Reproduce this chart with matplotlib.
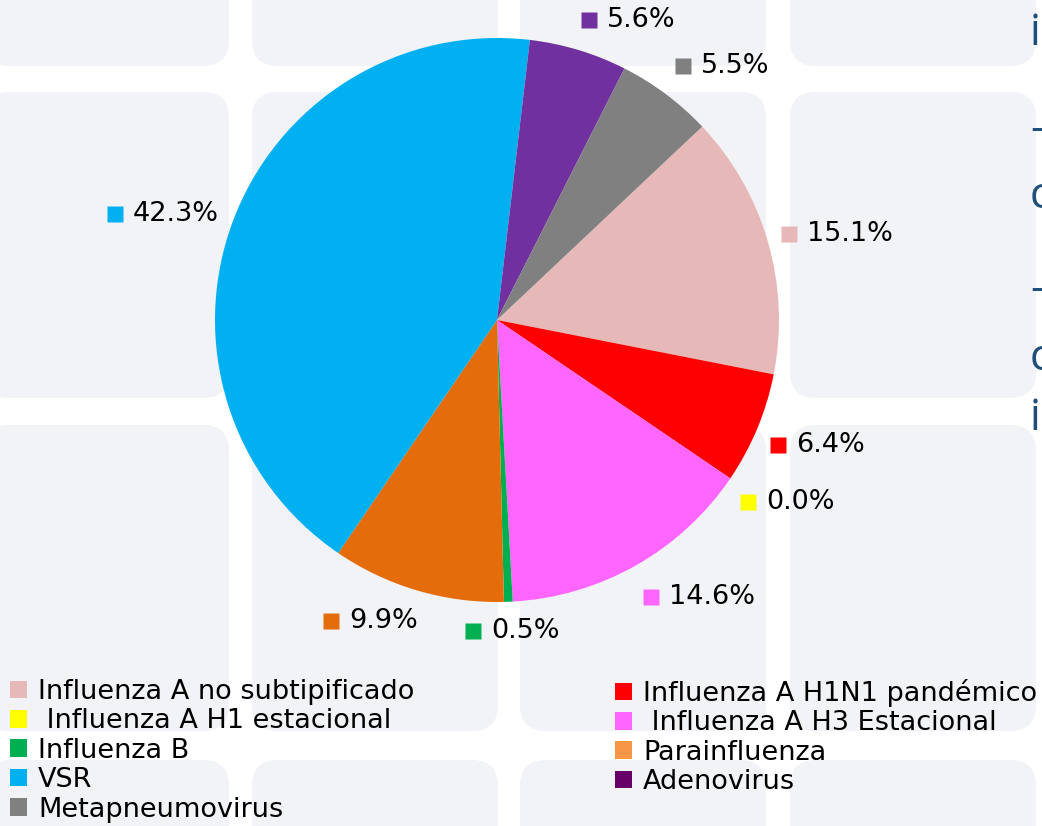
import matplotlib
matplotlib.use("Agg")
import matplotlib.pyplot as plt
from matplotlib.patches import FancyBboxPatch, Patch

# data, in Excel's series order (clockwise from the pink slice)
categories = ["Influenza A no subtipificado", "Influenza A H1N1 pandémico",
              " Influenza A H1 estacional", " Influenza A H3 Estacional",
              "Influenza B", "Parainfluenza", "VSR", "Adenovirus", "Metapneumovirus"]
shares = [15.1, 6.4, 0.0, 14.6, 0.5, 9.9, 42.3, 5.6, 5.5]
slice_colors = ["#E6B9B8", "#FF0000", "#FFFF00", "#FF66FF", "#00B050",
                "#E46C0A", "#00B0F0", "#7030A0", "#808080"]
legend_colors = ["#E6B9B8", "#FF0000", "#FFFF00", "#FF66FF", "#00B050",
                 "#F79646", "#00B0F0", "#660066", "#808080"]

# label anchors (square centre, pixel coords from top-left)
label_pos = [(789, 234), (778, 445), (748, 502), (651, 597), (473, 631),
             (331, 621), (115, 214), (589, 20), (683, 66)]

W, H = 1042, 826
FS = 19.5

fig = plt.figure(figsize=(W / 100, H / 100), dpi=100, facecolor="white")
ax = fig.add_axes([0, 0, 1, 1])

# slide background tiles
for x0 in [-17, 252, 520, 790]:
    for y0 in [-240, 92, 425, 760]:
        ax.add_patch(FancyBboxPatch((x0, H - y0 - 306), 246, 306,
                                    boxstyle="round,pad=0,rounding_size=26",
                                    fc="#F2F3F7", ec="none", zorder=0))

ax.pie(shares, colors=slice_colors, startangle=43.3, counterclock=False,
       center=(497, H - 320), radius=282, wedgeprops=dict(linewidth=0))

for (lx, ly), v, c in zip(label_pos, shares, slice_colors):
    ax.plot(lx, H - ly, marker="s", ms=11.5, color=c, mec="none", zorder=5)
    ax.text(lx + 18, H - ly, f"{v:.1f}%", fontsize=FS, va="center", ha="left",
            color="black", zorder=5, family="DejaVu Sans")

# cut-off slide text on the right edge
for ch, yb in [("i", 45), ("–", 141), ("c", 208), ("–", 301), ("c", 370), ("i", 430)]:
    ax.text(1030, H - yb, ch, fontsize=31, color="#1F4E79", va="baseline",
            ha="left", family="Open Sans")

handles = [Patch(fc=c, ec="none", label=l) for c, l in zip(legend_colors, categories)]
kw = dict(frameon=False, prop=dict(family="DejaVu Sans", size=FS),
          handlelength=0.63, handleheight=0.63, handletextpad=0.4,
          labelspacing=0.125, borderpad=0, borderaxespad=0, loc="upper left")
leg1 = ax.legend(handles=handles[0::2], bbox_to_anchor=(10 / W, 1 - 679 / H), **kw)
ax.add_artist(leg1)
leg2 = ax.legend(handles=handles[1::2], bbox_to_anchor=(615 / W, 1 - 679 / H), **kw)

ax.set_xlim(0, W)
ax.set_ylim(0, H)
ax.set_axis_off()

fig.savefig("out.png", dpi=100, facecolor="white")
